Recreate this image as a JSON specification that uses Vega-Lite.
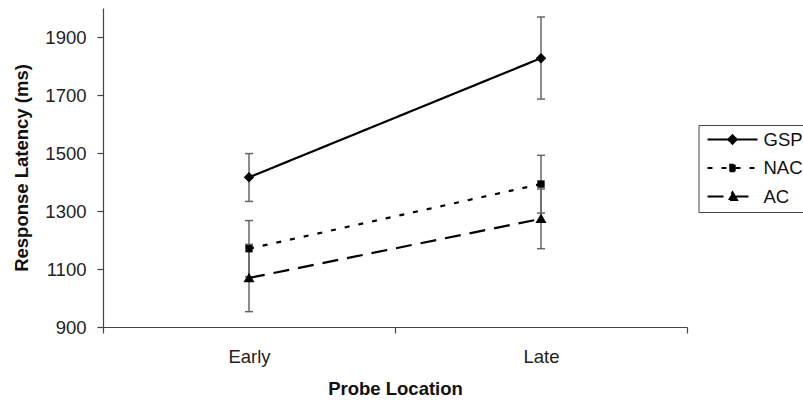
{
  "$schema": "https://vega.github.io/schema/vega-lite/v6.json",
  "autosize": {"type": "none"},
  "padding": {"left": 103, "top": 8, "right": 116, "bottom": 76},
  "width": 584,
  "height": 319,
  "background": "white",
  "config": {
    "font": "Liberation Sans",
    "view": {"stroke": null},
    "axis": {"grid": false}
  },
  "data": {
    "values": [
      {"group": "GSP", "location": "Early", "mean": 1416, "low": 1333, "high": 1498},
      {"group": "GSP", "location": "Late", "mean": 1827, "low": 1686, "high": 1969},
      {"group": "NAC", "location": "Early", "mean": 1170, "low": 1073, "high": 1267},
      {"group": "NAC", "location": "Late", "mean": 1393, "low": 1293, "high": 1492},
      {"group": "AC", "location": "Early", "mean": 1069, "low": 953, "high": 1185},
      {"group": "AC", "location": "Late", "mean": 1273, "low": 1170, "high": 1376}
    ]
  },
  "resolve": {"scale": {"shape": "independent", "strokeDash": "independent"}, "legend": {"shape": "independent", "strokeDash": "independent"}},
  "encoding": {
    "x": {
      "field": "location",
      "type": "nominal",
      "sort": ["Early", "Late"],
      "scale": {"type": "band", "paddingInner": 0, "paddingOuter": 0},
      "axis": {
        "title": "Probe Location",
        "labelAngle": 0,
        "tickBand": "extent",
        "tickSize": 6,
        "labelPadding": 14,
        "labelFontSize": 18.5,
        "labelColor": "#222",
        "titleFontSize": 18.5,
        "titleFontWeight": "bold",
        "titleColor": "#111",
        "titlePadding": 14,
        "domainColor": "#444",
        "tickColor": "#444",
        "domainWidth": 1.2,
        "tickWidth": 1.2
      }
    }
  },
  "layer": [
    {
      "mark": {"type": "rule", "color": "#666", "strokeWidth": 1.5},
      "encoding": {
        "y": {
          "field": "low",
          "type": "quantitative",
          "title": "Response Latency (ms)",
          "scale": {"domain": [900, 2000], "nice": false, "zero": false},
          "axis": {
            "values": [900, 1100, 1300, 1500, 1700, 1900],
            "format": "d",
            "tickSize": 6,
            "labelPadding": 11,
            "labelFontSize": 18.5,
            "labelColor": "#222",
            "titleFontSize": 18.5,
            "titleFontWeight": "bold",
            "titleColor": "#111",
            "titlePadding": 13,
            "domainColor": "#444",
            "tickColor": "#444",
            "domainWidth": 1.2,
            "tickWidth": 1.2
          }
        },
        "y2": {"field": "high"}
      }
    },
    {
      "mark": {"type": "tick", "color": "#666", "size": 8, "thickness": 1.5, "opacity": 1},
      "encoding": {
        "y": {"field": "low", "type": "quantitative", "title": "Response Latency (ms)"}
      }
    },
    {
      "mark": {"type": "tick", "color": "#666", "size": 8, "thickness": 1.5, "opacity": 1},
      "encoding": {
        "y": {"field": "high", "type": "quantitative", "title": "Response Latency (ms)"}
      }
    },
    {
      "mark": {"type": "line", "color": "black", "strokeWidth": 2.2},
      "encoding": {
        "y": {"field": "mean", "type": "quantitative", "title": "Response Latency (ms)"},
        "strokeDash": {
          "field": "group",
          "type": "nominal",
          "scale": {"domain": ["GSP", "NAC", "AC"], "range": [[1, 0], [5, 9], [16, 9]]},
          "legend": {
            "title": null,
            "orient": "none",
            "legendX": 595.5,
            "legendY": 117,
            "padding": 6,
            "clipHeight": 17,
            "rowPadding": 9.5,
            "symbolOffset": 2,
            "labelOffset": 5,
            "symbolSize": 2500,
            "symbolStrokeWidth": 2,
            "symbolStrokeColor": "black",
            "symbolFillColor": "black",
            "labelFontSize": 18.5,
            "labelColor": "#111",
            "strokeColor": "#444",
            "fillColor": "white",
            "encode": {
              "symbols": {
                "update": {
                  "shape": {"signal": "datum.value === 'GSP' ? 'M-1,0H1M0,-0.17L0.17,0L0,0.17L-0.17,0Z' : datum.value === 'NAC' ? 'M-1,0H1M-0.13,-0.13H0.13V0.13H-0.13Z' : 'M-1,0H1M0,-0.17L0.18,0.14L-0.18,0.14Z'"},
                  "size": {"value": 2500},
                  "fill": {"value": "black"},
                  "stroke": {"value": "black"},
                  "strokeWidth": {"value": 2},
                  "opacity": {"value": 1}
                }
              }
            }
          }
        }
      }
    },
    {
      "mark": {"type": "point", "filled": true, "color": "black", "opacity": 1, "size": 110},
      "encoding": {
        "y": {"field": "mean", "type": "quantitative", "title": "Response Latency (ms)"},
        "shape": {
          "field": "group",
          "type": "nominal",
          "scale": {
            "domain": ["GSP", "NAC", "AC"],
            "range": [
              "M0,-1L1,0L0,1L-1,0Z",
              "M-0.7,-0.7H0.7V0.7H-0.7Z",
              "M0,-1L1.05,0.8L-1.05,0.8Z"
            ]
          },
          "legend": null
        }
      }
    }
  ]
}
